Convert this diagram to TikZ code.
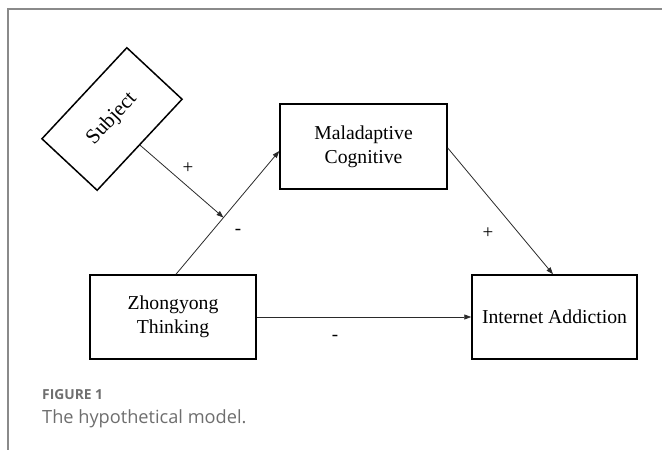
\documentclass[tikz,border=0pt]{standalone}
\usepackage{fontspec}
\setmainfont{Liberation Serif}
\newfontfamily\capfont{Open Sans}
\usetikzlibrary{arrows.meta}
\definecolor{framegray}{HTML}{8A8A8A}
\definecolor{capgray}{HTML}{6E6E6E}
\definecolor{linegray}{HTML}{2A2A2A}
\begin{document}
\begin{tikzpicture}[x=1pt,y=-1pt,
  box/.style={draw=black,line width=1.5pt,inner sep=0pt,align=center,
    font=\fontsize{19.7}{24}\selectfont},
  conn/.style={draw=linegray,line width=0.8pt,-{Triangle[length=7pt,width=5pt]}},
  sign/.style={font=\fontsize{19}{22}\selectfont,inner sep=0pt}]
\useasboundingbox (0,0) rectangle (662,450);
\draw[framegray,line width=1.5pt] (8,450) -- (8,9) -- (662,9);
% nodes
\node[box,minimum width=124.5pt,minimum height=75.5pt,rotate=47,
  font=\fontsize{21}{24}\selectfont] (subj) at (112,119) {Subject};
\node[box,minimum width=167pt,minimum height=85pt] (ma) at (363.5,146.5) {Maladaptive\\Cognitive};
\node[box,minimum width=166pt,minimum height=84pt] (zt) at (173,317) {Zhongyong\\Thinking};
\node[box,minimum width=165pt,minimum height=84pt] (ia) at (554.5,317) {Internet Addiction};
% connectors
\draw[conn] ([xshift=3pt]zt.north) -- ([yshift=-4.5pt]ma.west)
  coordinate[pos=0.46] (m);
\draw[conn] (subj.south) -- (m);
\draw[conn] ([yshift=-1.5pt]ma.east) -- ([xshift=-1.5pt]ia.north);
\draw[conn] (zt.east) -- (ia.west);
% signs
\node[sign] (s1) at (188,168) {+};
\node[sign] (s2) at (238,232) {-};
\node[sign] (s3) at (488,233) {+};
\node[sign] (s4) at (335,338) {-};
% caption
\node[anchor=base west,inner sep=0pt,text=capgray,
  font=\capfont\bfseries\fontsize{13.8}{15}\selectfont] (fig) at (42,399) {FIGURE 1};
\node[anchor=base west,inner sep=0pt,text=capgray,
  font=\capfont\fontsize{18.2}{20}\selectfont] (cap) at (42,423) {The hypothetical model.};
\end{tikzpicture}
\end{document}
